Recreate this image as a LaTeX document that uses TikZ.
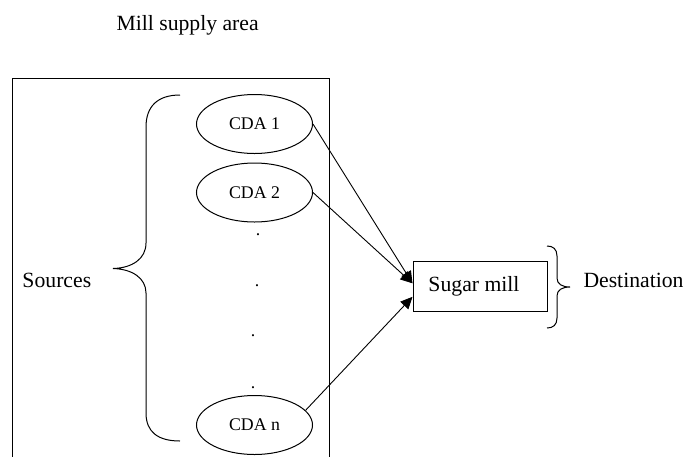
\documentclass[tikz,border=0pt]{standalone}
\usepackage{fontspec}
\setmainfont{Liberation Serif}
\usetikzlibrary{arrows.meta,calc,shapes.geometric}
\begin{document}
\begin{tikzpicture}[x=1pt,y=-1pt,line width=1pt,
  bigtxt/.style={font=\fontsize{21.7}{26}\selectfont,inner sep=0pt},
  cda/.style={draw,ellipse,minimum width=116pt,minimum height=59pt,inner sep=0pt,font=\fontsize{17.8}{21}\selectfont},
  dotmark/.style={inner sep=0pt,anchor=base,font=\fontsize{17.8}{21}\selectfont},
  millbox/.style={draw,rectangle,minimum width=134pt,minimum height=49.5pt,inner sep=0pt,font=\fontsize{21.7}{26}\selectfont},
  flow/.style={-{Triangle[length=12pt,width=11pt]},line width=0.9pt}]
\useasboundingbox (0,0) rectangle (686,456);
% title
\node[bigtxt,anchor=base west] (title) at (116,30.7) {Mill supply area};
% frame (bottom edge lies below the picture)
\draw (12.7,470) -- (12.7,78) -- (329,78) -- (329,470);
% sources
\node[cda] (cda1) at (254.5,124) {CDA 1};
\node[cda] (cda2) at (254.5,192.5) {CDA 2};
\node[cda] (cdan) at (254.5,425) {CDA n};
\node[dotmark] (d1) at (258,235) {.};
\node[dotmark] (d2) at (257,286) {.};
\node[dotmark] (d3) at (253,336) {.};
\node[dotmark] (d4) at (253,388.5) {.};
% left brace
\draw (180,95) .. controls (158,95) and (146,106) .. (146,127)
  -- (146,243) .. controls (146,259) and (132,268) .. (113,268.5)
  .. controls (132,269) and (146,278) .. (146,293)
  -- (146,413) .. controls (146,432) and (158,441) .. (180,441);
\node[bigtxt,anchor=base west] (src) at (22,287) {Sources};
% destination
\node[millbox] (mill) at (480,286.3) {Sugar mill\hspace*{12pt}};
\draw (547,246) .. controls (553,246) and (557,249) .. (557,256)
  -- (557,278) .. controls (557,284) and (562,287) .. (570,287)
  .. controls (562,287) and (557,290) .. (557,296)
  -- (557,318) .. controls (557,325) and (553,328) .. (547,328);
\node[bigtxt,anchor=base west] (dest) at (583,287) {Destination};
% connectors
\coordinate (tipa) at ($(mill.west)+(0,-3)$);
\coordinate (tipb) at ($(mill.west)+(0,10.5)$);
\draw[flow] (cda1.east) -- (tipa);
\draw[flow] (cda2.east) -- (tipa);
\draw[flow] (cdan.16) -- (tipb);
\end{tikzpicture}
\end{document}
